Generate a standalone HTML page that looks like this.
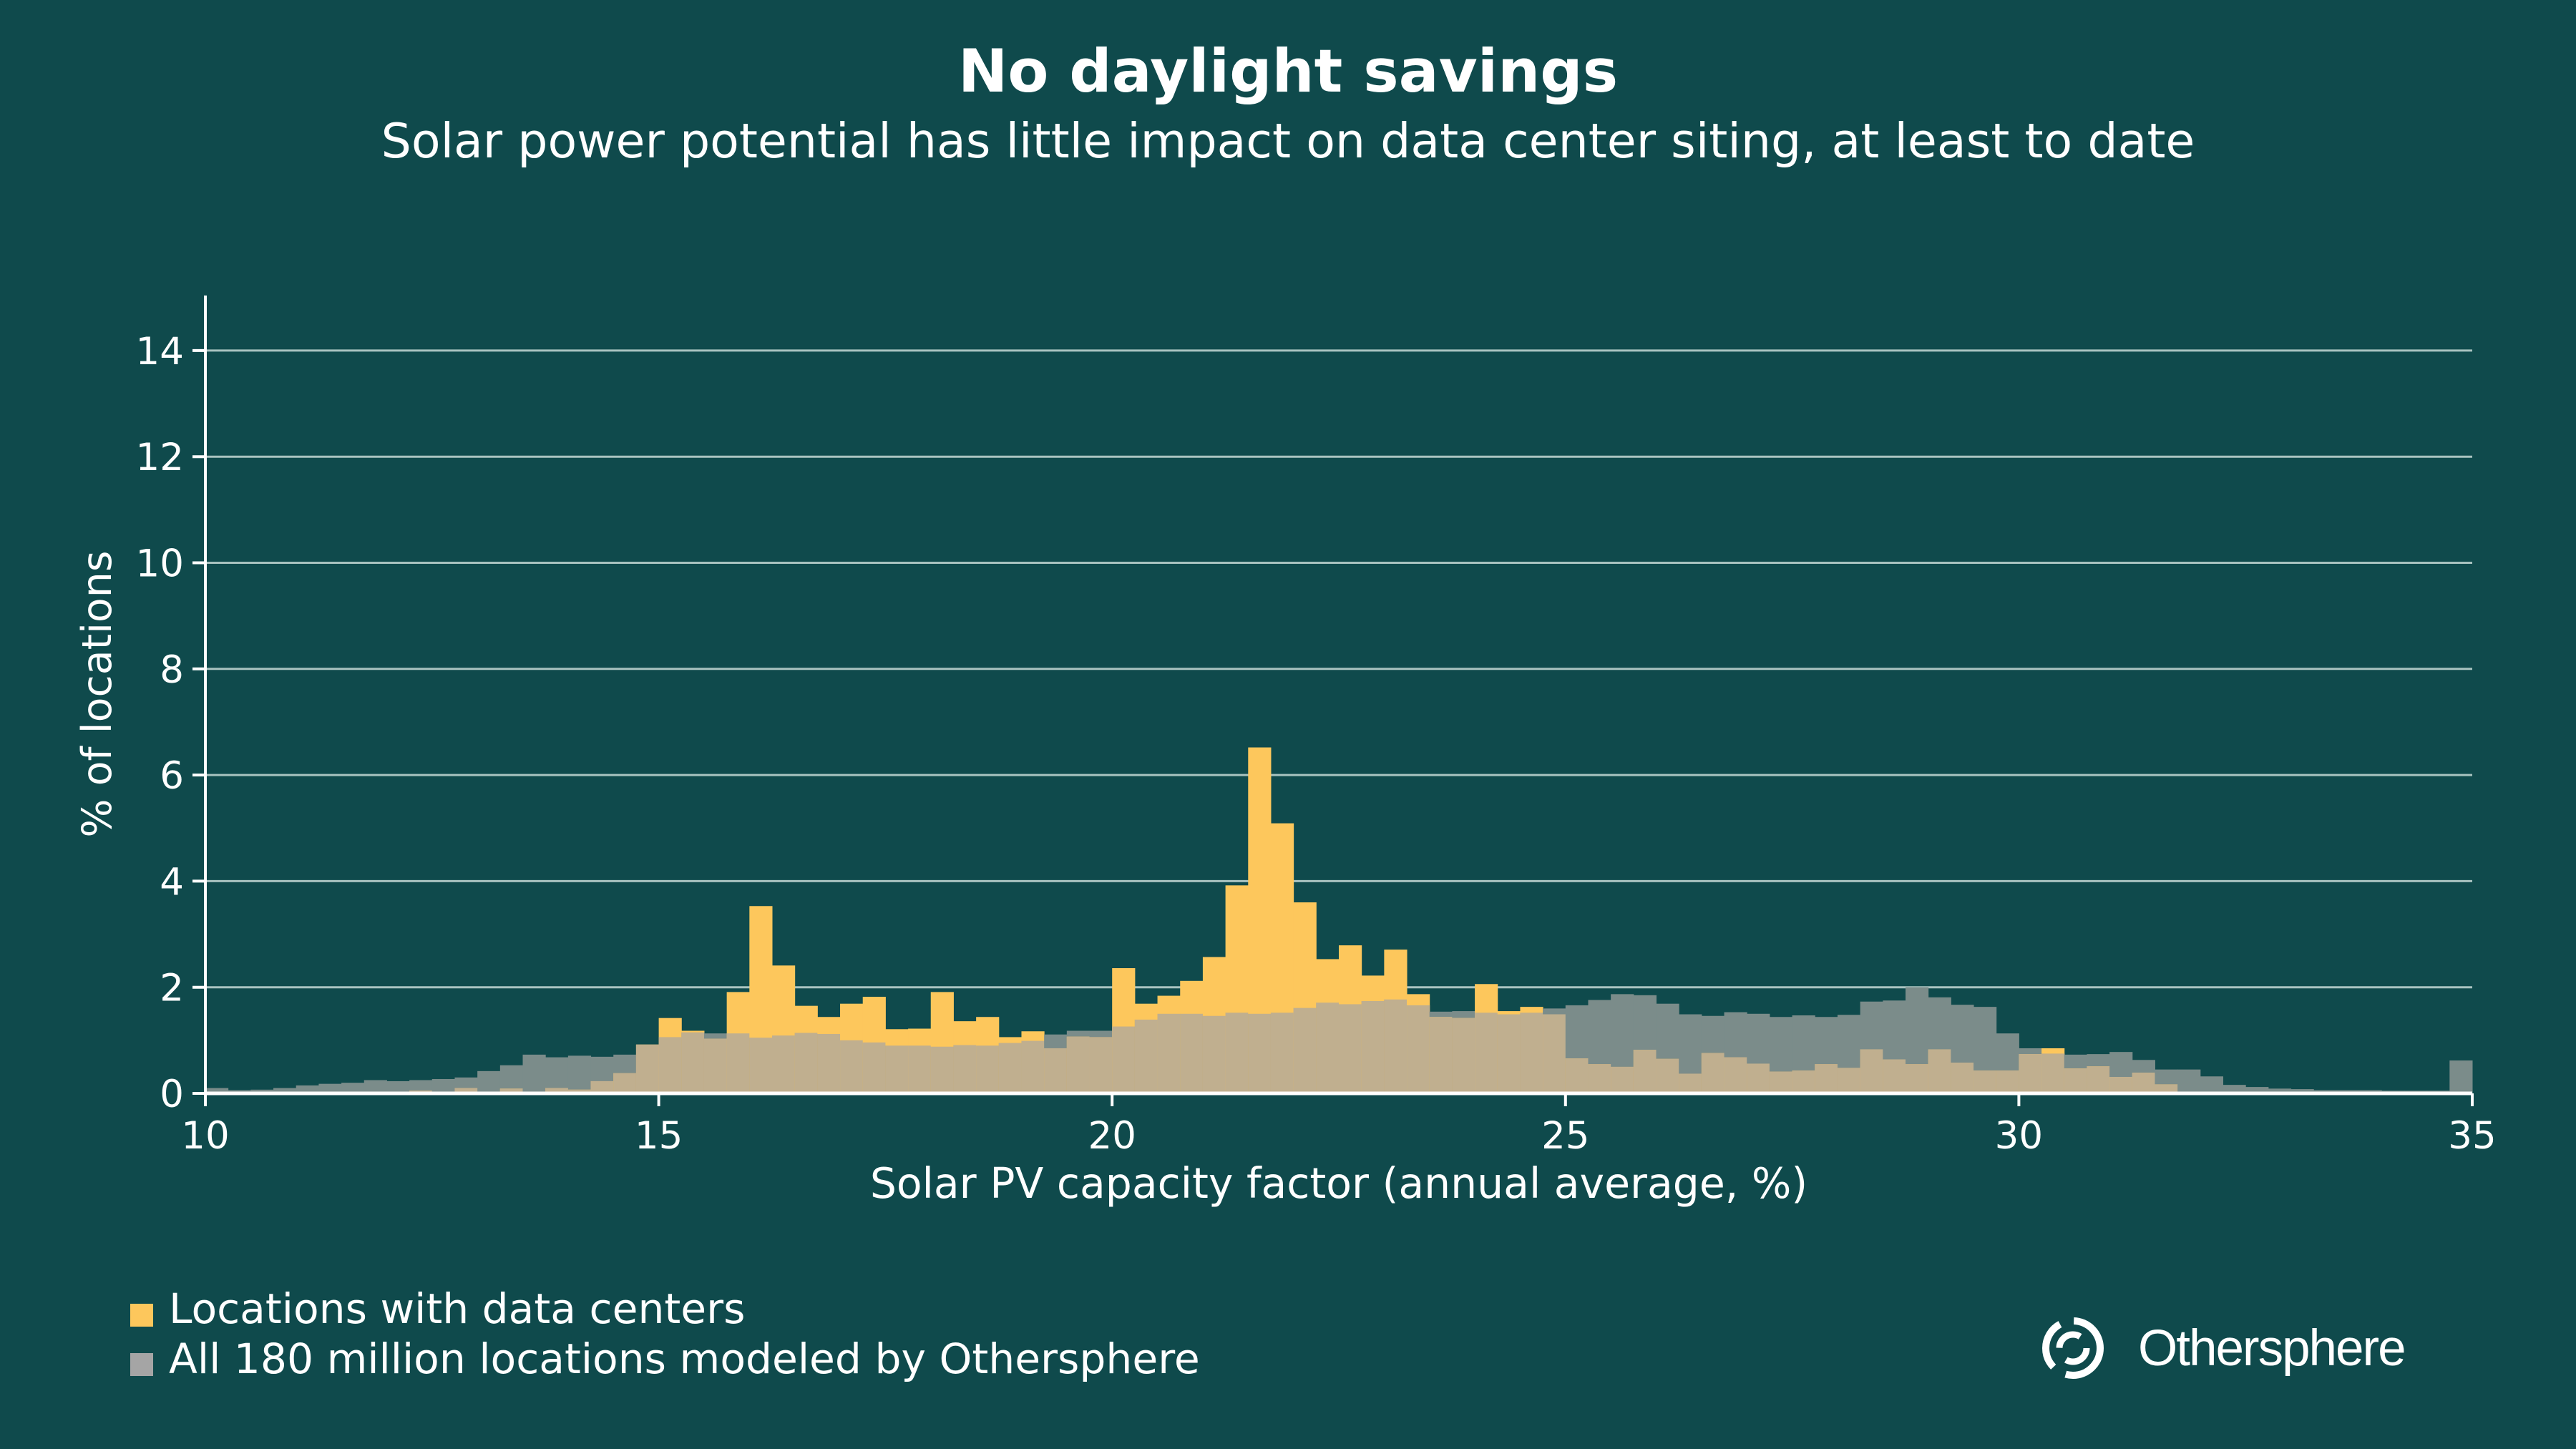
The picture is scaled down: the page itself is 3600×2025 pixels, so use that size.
<!DOCTYPE html>
<html><head><meta charset="utf-8">
<style>
html,body{margin:0;padding:0;background:#0f4a4c;}
svg{display:block;font-family:"DejaVu Sans","Liberation Sans",sans-serif;}
</style></head>
<body>
<svg id="chart" width="3600" height="2025" viewBox="0 0 3600 2025" xmlns="http://www.w3.org/2000/svg">
<rect width="3600" height="2025" fill="#0f4a4c"/>
<text x="1800" y="128" text-anchor="middle" font-size="83" font-weight="bold" fill="#ffffff">No daylight savings</text>
<text x="1800" y="220" text-anchor="middle" font-size="66.5" fill="#ffffff">Solar power potential has little impact on data center siting, at least to date</text>
<g id="grid"></g>
<g id="bars"></g>
<g id="axes"></g>
<text x="1871" y="1674" text-anchor="middle" font-size="58.4" fill="#ffffff">Solar PV capacity factor (annual average, %)</text>
<text transform="translate(155,970) rotate(-90)" text-anchor="middle" font-size="57" fill="#ffffff">% of locations</text>
<g>
<rect x="182" y="1822" width="32" height="32" fill="#fdc75c"/>
<text x="236" y="1849" font-size="58.3" fill="#ffffff">Locations with data centers</text>
<rect x="182" y="1891" width="32" height="32" fill="#a5a5a5"/>
<text x="236" y="1919" font-size="58.3" fill="#ffffff">All 180 million locations modeled by Othersphere</text>
</g>
<g>
<circle cx="2897" cy="1884" r="38" fill="none" stroke="#ffffff" stroke-width="10" stroke-dasharray="70 20"/>
<circle cx="2897" cy="1884" r="19" fill="none" stroke="#ffffff" stroke-width="9" stroke-dasharray="40 20"/>
<text x="2988" y="1908" font-size="71" fill="#ffffff" font-family="Liberation Sans, sans-serif" letter-spacing="-2">Othersphere</text>
</g>
</svg>
<script>
const binStarts = [10,10.25,10.5,10.75,11,11.25,11.5,11.75,12,12.25,12.5,12.75,13,13.25,13.5,13.75,14,14.25,14.5,14.75,15,15.25,15.5,15.75,16,16.25,16.5,16.75,17,17.25,17.5,17.75,18,18.25,18.5,18.75,19,19.25,19.5,19.75,20,20.25,20.5,20.75,21,21.25,21.5,21.75,22,22.25,22.5,22.75,23,23.25,23.5,23.75,24,24.25,24.5,24.75,25,25.25,25.5,25.75,26,26.25,26.5,26.75,27,27.25,27.5,27.75,28,28.25,28.5,28.75,29,29.25,29.5,29.75,30,30.25,30.5,30.75,31,31.25,31.5,31.75,32,32.25,32.5,32.75,33,33.25,33.5,33.75,34,34.25,34.5,34.75];
const allLocations = [0.1,0.06,0.07,0.1,0.15,0.18,0.2,0.25,0.23,0.25,0.27,0.3,0.42,0.53,0.73,0.68,0.71,0.69,0.73,0.92,1.06,1.15,1.13,1.13,1.05,1.09,1.14,1.12,1.0,0.96,0.9,0.9,0.88,0.91,0.9,0.95,0.99,1.11,1.18,1.18,1.26,1.39,1.5,1.5,1.46,1.52,1.5,1.52,1.61,1.71,1.68,1.74,1.77,1.66,1.54,1.55,1.52,1.49,1.52,1.6,1.66,1.76,1.87,1.85,1.69,1.49,1.46,1.53,1.5,1.44,1.47,1.44,1.48,1.73,1.75,2.0,1.81,1.67,1.63,1.13,0.85,0.75,0.73,0.74,0.78,0.63,0.45,0.45,0.32,0.16,0.12,0.09,0.08,0.06,0.06,0.06,0.05,0.05,0.05,0.62];
const dataCenters = [0,0,0,0,0,0,0,0,0.02,0.05,0,0.1,0,0.09,0,0.1,0.07,0.23,0.38,0.92,1.42,1.18,1.03,1.91,3.53,2.41,1.65,1.44,1.69,1.82,1.21,1.22,1.91,1.36,1.44,1.06,1.17,0.85,1.07,1.06,2.36,1.69,1.84,2.12,2.57,3.92,6.52,5.09,3.6,2.53,2.79,2.22,2.71,1.87,1.44,1.42,2.06,1.55,1.63,1.49,0.66,0.55,0.5,0.82,0.65,0.37,0.76,0.68,0.56,0.41,0.43,0.55,0.48,0.83,0.64,0.55,0.83,0.58,0.43,0.43,0.74,0.85,0.47,0.51,0.31,0.39,0.17,0,0,0,0,0,0,0,0,0,0,0,0,0];
const yTicks = [0,2,4,6,8,10,12,14];
const xTicks = [10,15,20,25,30,35];
const binWidth = 0.25;

const NS = "http://www.w3.org/2000/svg";
const X0 = 287, X1 = 3455, Y0 = 1528, YTOP = 413;
const xMin = 10, xMax = 35;
function xs(v){ return X0 + (v - xMin) / (xMax - xMin) * (X1 - X0); }
function ysc(v){ return Y0 - v * 74.15; }
function mk(tag, attrs, parent){
  const el = document.createElementNS(NS, tag);
  for (const k in attrs) el.setAttribute(k, attrs[k]);
  parent.appendChild(el);
  return el;
}
const grid = document.getElementById('grid');
const bars = document.getElementById('bars');
const axes = document.getElementById('axes');

yTicks.forEach(t => {
  if (t > 0) {
    const g = mk('line', {x1:X0, x2:X1, y1:ysc(t), y2:ysc(t), stroke:'#a9c3c0', 'stroke-width':3}, grid);
    
    
  }
  const tk = mk('line', {x1:X0-18, x2:X0, y1:ysc(t), y2:ysc(t), stroke:'#ffffff', 'stroke-width':4}, axes);
  
  
  const lb = mk('text', {x:X0-30, y:ysc(t)+19, 'text-anchor':'end', 'font-size':53, fill:'#ffffff'}, axes);
  lb.textContent = t;
  
  
});

binStarts.forEach((b, i) => {
  const xa = xs(b), w = xs(b + binWidth) - xa;
  const g = allLocations[i], d = dataCenters[i];
  if (g > 0) {
    const r = mk('rect', {x:xa, y:ysc(g), width:w+0.5, height:Y0-ysc(g), fill:'#7b8c8a'}, bars);
    
    
  }
  if (d > 0) {
    const r = mk('rect', {x:xa, y:ysc(d), width:w+0.5, height:Y0-ysc(d), fill:'#fdc75c'}, bars);
    
    
  }
  const m = Math.min(g, d);
  if (m > 0) {
    const r = mk('rect', {x:xa, y:ysc(m), width:w+0.5, height:Y0-ysc(m), fill:'#c0af8f'}, bars);
    
    
  }
});

const ly = mk('line', {x1:X0, x2:X0, y1:YTOP, y2:Y0, stroke:'#ffffff', 'stroke-width':4}, axes);


const lx = mk('line', {x1:X0-2, x2:X1, y1:Y0, y2:Y0, stroke:'#ffffff', 'stroke-width':5}, axes);


xTicks.forEach(t => {
  const tk = mk('line', {x1:xs(t), x2:xs(t), y1:Y0, y2:Y0+18, stroke:'#ffffff', 'stroke-width':4}, axes);
  
  
  const lb = mk('text', {x:xs(t), y:Y0+77, 'text-anchor':'middle', 'font-size':53, fill:'#ffffff'}, axes);
  lb.textContent = t;
  
  
});
</script>
</body></html>
